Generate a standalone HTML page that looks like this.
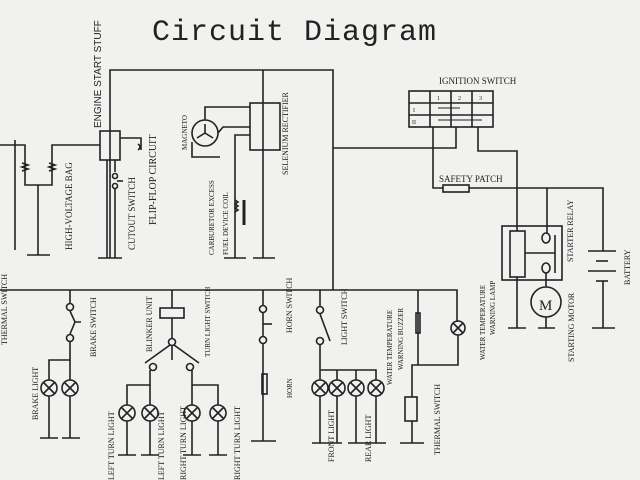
<!DOCTYPE html>
<html><head><meta charset="utf-8"><style>
html,body{margin:0;padding:0;background:#f1f1ef;}
svg{display:block}
text{fill:#222;}
</style></head><body>
<svg width="640" height="480" viewBox="0 0 640 480" xmlns="http://www.w3.org/2000/svg" style="font-family:'Liberation Serif',serif">
<defs>
<g id="l"><circle cx="0" cy="0" r="8"/><path d="M-5.5,-5.5 L5.5,5.5 M5.5,-5.5 L-5.5,5.5"/></g>
</defs>
<rect width="640" height="480" fill="#f1f1ef"/>
<text x="152" y="40" style="font-family:'Liberation Mono',monospace;font-size:30px" letter-spacing="1">Circuit Diagram</text>
<g stroke="#222" stroke-width="1.6" fill="none">
<polyline points="110,258 110,70 333,70 333,290"/>
<line x1="263" y1="70" x2="263" y2="258"/>
<line x1="253" y1="258" x2="275" y2="258"/>
<line x1="98" y1="258" x2="122" y2="258"/>
<polyline points="0,145 25,145 25,185 52,185 52,145 100,145"/>
<path d="M22,163 l6,2 l-6,2 l6,2 l-6,2" />
<path d="M49,163 l6,2 l-6,2 l6,2 l-6,2" />
<line x1="38" y1="185" x2="38" y2="255"/>
<line x1="27" y1="255" x2="50" y2="255"/>
<line x1="15" y1="140" x2="15" y2="250"/>
<rect x="100" y="131" width="20" height="29"/>
<polyline points="120,138 141,138 141,150"/>
<path d="M138,144 q4,3 0,6"/>
<line x1="107" y1="160" x2="107" y2="258"/>
<polyline points="115,160 115,172"/>
<circle cx="115" cy="176" r="2.5"/><circle cx="115" cy="186" r="2.5"/>
<line x1="115" y1="189" x2="115" y2="258"/>
<line x1="117" y1="181" x2="123" y2="181"/>
<circle cx="205" cy="133" r="13"/>
<path d="M205,133 l0,-9 M205,133 l-8,5 M205,133 l8,5"/>
<rect x="250" y="103" width="30" height="47"/>
<polyline points="205,120 205,107 250,107"/>
<polyline points="218,133 223,127 250,127"/>
<polyline points="192,142 192,157 220,157"/>
<polyline points="235,258 235,135 250,135"/>
<line x1="224" y1="258" x2="246" y2="258"/>
<path d="M235,200 l3,2 l-3,2 l3,2 l-3,2 l3,2 l-3,2" />
<line x1="244" y1="200" x2="244" y2="225" stroke-width="3"/>
<polyline points="0,290 457,290 457,322"/>
<circle cx="458" cy="328" r="7"/>
<path d="M453,323 l10,10 M463,323 l-10,10"/>
<polyline points="458,335 458,365 412,365 412,397"/>
<rect x="405" y="397" width="12" height="24"/>
<line x1="412" y1="421" x2="412" y2="443"/>
<line x1="400" y1="443" x2="424" y2="443"/>
<polyline points="418,290 418,365"/>
<rect x="416" y="313" width="4" height="20"/>
<line x1="70" y1="290" x2="70" y2="303"/>
<circle cx="70" cy="307" r="3.5"/><circle cx="70" cy="338" r="3.5"/>
<path d="M70,311 L75,322 L81,322 M75,322 L70,334"/>
<polyline points="70,342 70,360 49,360 49,380"/>
<line x1="70" y1="360" x2="70" y2="380"/>
<line x1="49" y1="396" x2="49" y2="438"/><line x1="70" y1="396" x2="70" y2="438"/>
<line x1="40" y1="438" x2="58" y2="438"/><line x1="62" y1="438" x2="80" y2="438"/>
<line x1="172" y1="290" x2="172" y2="308"/>
<rect x="160" y="308" width="24" height="10"/>
<line x1="172" y1="318" x2="172" y2="338"/>
<circle cx="172" cy="342" r="3.5"/>
<line x1="172" y1="346" x2="172" y2="360"/>
<line x1="170" y1="345" x2="145" y2="363"/>
<line x1="174" y1="345" x2="199" y2="363"/>
<circle cx="153" cy="367" r="3.5"/><circle cx="190" cy="367" r="3.5"/>
<polyline points="150,370 150,385 127,385 127,405"/>
<line x1="150" y1="385" x2="150" y2="405"/>
<polyline points="192,370 192,385 218,385 218,405"/>
<line x1="192" y1="385" x2="192" y2="405"/>
<line x1="127" y1="421" x2="127" y2="455"/><line x1="150" y1="421" x2="150" y2="455"/>
<line x1="192" y1="421" x2="192" y2="455"/><line x1="218" y1="421" x2="218" y2="455"/>
<line x1="118" y1="455" x2="136" y2="455"/><line x1="141" y1="455" x2="159" y2="455"/>
<line x1="183" y1="455" x2="201" y2="455"/><line x1="209" y1="455" x2="227" y2="455"/>
<line x1="263" y1="290" x2="263" y2="305"/>
<circle cx="263" cy="309" r="3.5"/><circle cx="263" cy="340" r="3.5"/>
<line x1="263" y1="313" x2="263" y2="336"/><line x1="263" y1="324" x2="272" y2="324"/>
<line x1="263" y1="344" x2="263" y2="441"/>
<rect x="262" y="374" width="5" height="20"/>
<line x1="251" y1="441" x2="276" y2="441"/>
<line x1="320" y1="290" x2="320" y2="306"/>
<circle cx="320" cy="310" r="3.5"/><circle cx="320" cy="341" r="3.5"/>
<line x1="320" y1="314" x2="330" y2="341"/>
<polyline points="320,345 320,370 376,370 376,380"/>
<line x1="320" y1="370" x2="320" y2="380"/><line x1="337" y1="370" x2="337" y2="380"/><line x1="356" y1="370" x2="356" y2="380"/>
<line x1="320" y1="396" x2="320" y2="443"/><line x1="337" y1="396" x2="337" y2="443"/>
<line x1="356" y1="396" x2="356" y2="443"/><line x1="376" y1="396" x2="376" y2="443"/>
<line x1="312" y1="443" x2="342" y2="443"/><line x1="348" y1="443" x2="386" y2="443"/>
<polyline points="333,148 456,148 456,127"/>
<rect x="409" y="91" width="84" height="36"/>
<line x1="409" y1="103" x2="493" y2="103"/><line x1="409" y1="115" x2="493" y2="115"/>
<line x1="430" y1="91" x2="430" y2="127"/><line x1="451" y1="91" x2="451" y2="127"/><line x1="472" y1="91" x2="472" y2="127"/>
<line x1="438" y1="108" x2="460" y2="108" stroke-width="1"/>
<line x1="438" y1="120" x2="482" y2="120" stroke-width="1"/>
<polyline points="433,127 433,188 443,188"/>
<rect x="443" y="185" width="26" height="7"/>
<polyline points="469,188 603,188 603,251"/>
<polyline points="478,127 478,151 517,151 517,231"/>
<rect x="502" y="226" width="60" height="54"/>
<rect x="510" y="231" width="15" height="46"/>
<line x1="517" y1="277" x2="517" y2="328"/>
<line x1="508" y1="328" x2="526" y2="328"/>
<line x1="547" y1="188" x2="547" y2="234"/>
<ellipse cx="546" cy="238" rx="4" ry="5"/><ellipse cx="546" cy="268" rx="4" ry="5"/>
<line x1="555" y1="235" x2="555" y2="273"/>
<line x1="525" y1="253" x2="555" y2="253"/>
<line x1="546" y1="273" x2="546" y2="287"/>
<circle cx="546" cy="302" r="15"/>
<line x1="546" y1="317" x2="546" y2="328"/>
<line x1="538" y1="328" x2="555" y2="328"/>
<line x1="588" y1="251" x2="616" y2="251"/><line x1="596" y1="261" x2="608" y2="261"/>
<line x1="588" y1="271" x2="616" y2="271"/><line x1="596" y1="281" x2="608" y2="281"/>
<line x1="603" y1="281" x2="603" y2="328"/>
<line x1="592" y1="328" x2="615" y2="328"/>
<use href="#l" x="49" y="388"/><use href="#l" x="70" y="388"/>
<use href="#l" x="127" y="413"/><use href="#l" x="150" y="413"/><use href="#l" x="192" y="413"/><use href="#l" x="218" y="413"/>
<use href="#l" x="320" y="388"/><use href="#l" x="337" y="388"/><use href="#l" x="356" y="388"/><use href="#l" x="376" y="388"/>
</g>
<text x="539" y="310" font-size="15">M</text>
<text x="439" y="84" font-size="9">IGNITION SWITCH</text>
<text x="439" y="182" font-size="9">SAFETY PATCH</text>
<g font-size="6"><text x="437" y="100">1</text><text x="458" y="100">2</text><text x="479" y="100">3</text><text x="413" y="112">I</text><text x="412" y="124">II</text></g>
<g font-size="9">
<text transform="translate(101,128) rotate(-90)" style="font-family:'Liberation Sans',sans-serif;font-size:10px">ENGINE START STUFF</text>
<text transform="translate(72,250) rotate(-90)">HIGH-VOLTAGE BAG</text>
<text transform="translate(135,250) rotate(-90)">CUTOUT SWITCH</text>
<text transform="translate(156,225) rotate(-90)" font-size="10">FLIP-FLOP CIRCUIT</text>
<text transform="translate(187,150) rotate(-90)" font-size="7">MAGNETO</text>
<text transform="translate(214,255) rotate(-90)" font-size="7">CARBURETOR EXCESS</text>
<text transform="translate(228,255) rotate(-90)" font-size="7">FUEL DEVICE COIL</text>
<text transform="translate(288,175) rotate(-90)" font-size="8">SELENIUM RECTIFIER</text>
<text transform="translate(7,345) rotate(-90)" font-size="8">THERMAL SWITCH</text>
<text transform="translate(96,357) rotate(-90)" font-size="8">BRAKE SWITCH</text>
<text transform="translate(38,420) rotate(-90)" font-size="8">BRAKE LIGHT</text>
<text transform="translate(152,352) rotate(-90)" font-size="8">BLINKER UNIT</text>
<text transform="translate(210,357) rotate(-90)" font-size="7">TURN LIGHT SWITCH</text>
<text transform="translate(114,480) rotate(-90)" font-size="8">LEFT TURN LIGHT</text>
<text transform="translate(164,480) rotate(-90)" font-size="8">LEFT TURN LIGHT</text>
<text transform="translate(186,480) rotate(-90)" font-size="8">RIGHT TURN LIGHT</text>
<text transform="translate(240,480) rotate(-90)" font-size="8">RIGHT TURN LIGHT</text>
<text transform="translate(292,333) rotate(-90)" font-size="8">HORN SWITCH</text>
<text transform="translate(292,398) rotate(-90)" font-size="7">HORN</text>
<text transform="translate(347,345) rotate(-90)" font-size="8">LIGHT SWITCH</text>
<text transform="translate(334,462) rotate(-90)" font-size="8">FRONT LIGHT</text>
<text transform="translate(371,462) rotate(-90)" font-size="8">REAR LIGHT</text>
<text transform="translate(392,385) rotate(-90)" font-size="7">WATER TEMPERATURE</text>
<text transform="translate(403,370) rotate(-90)" font-size="7">WARNING BUZZER</text>
<text transform="translate(440,455) rotate(-90)" font-size="8">THERMAL SWITCH</text>
<text transform="translate(485,360) rotate(-90)" font-size="7">WATER TEMPERATURE</text>
<text transform="translate(495,335) rotate(-90)" font-size="7">WARNING LAMP</text>
<text transform="translate(573,262) rotate(-90)" font-size="8">STARTER RELAY</text>
<text transform="translate(574,362) rotate(-90)" font-size="8">STARTING MOTOR</text>
<text transform="translate(630,285) rotate(-90)" font-size="8">BATTERY</text>
</g>
</svg>
</body></html>
